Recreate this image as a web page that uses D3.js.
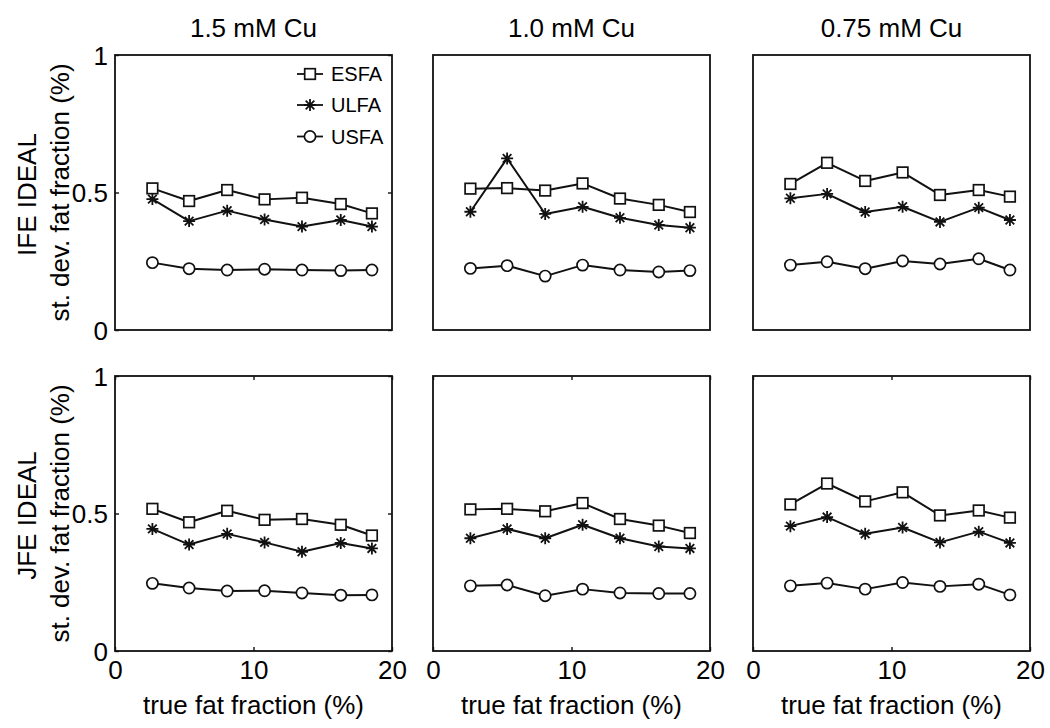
<!DOCTYPE html>
<html><head><meta charset="utf-8">
<script src="https://cdn.jsdelivr.net/npm/d3@7"></script>
<style>body{margin:0;background:#fff}svg{display:block}text{font-family:"Liberation Sans",Arial,Helvetica,sans-serif;fill:#000}</style>
</head><body>
<svg id="c" width="1050" height="728"></svg>
<script>
const columns = ["1.5 mM Cu", "1.0 mM Cu", "0.75 mM Cu"];
const rows = ["IFE IDEAL", "JFE IDEAL"];
const seriesNames = ["ESFA", "ULFA", "USFA"];
const xVals = [2.7, 5.35, 8.1, 10.8, 13.5, 16.3, 18.55];
const xTicks = [0, 10, 20];
const yTicks = [0, 0.5, 1];
const xLabel = "true fat fraction (%)";
const yLabel = "st. dev. fat fraction (%)";

// [row][column][series]
const ife15 = [[0.515,0.469,0.509,0.475,0.481,0.458,0.424],[0.476,0.396,0.434,0.402,0.376,0.400,0.376],[0.245,0.223,0.218,0.221,0.218,0.216,0.218]];
const ife10 = [[0.514,0.516,0.507,0.533,0.478,0.455,0.429],[0.430,0.624,0.422,0.448,0.408,0.382,0.372],[0.224,0.234,0.196,0.236,0.218,0.211,0.216]];
const ife075 = [[0.531,0.608,0.542,0.573,0.491,0.509,0.485],[0.479,0.495,0.429,0.448,0.393,0.445,0.400],[0.236,0.248,0.223,0.251,0.240,0.259,0.218]];
const jfe15 = [[0.517,0.468,0.510,0.477,0.480,0.459,0.420],[0.444,0.387,0.426,0.395,0.361,0.393,0.373],[0.246,0.229,0.218,0.219,0.211,0.203,0.204]];
const jfe10 = [[0.515,0.517,0.508,0.538,0.480,0.456,0.429],[0.410,0.444,0.410,0.459,0.410,0.380,0.373],[0.237,0.240,0.201,0.225,0.211,0.209,0.209]];
const jfe075 = [[0.533,0.609,0.544,0.577,0.493,0.511,0.485],[0.454,0.487,0.426,0.449,0.395,0.434,0.393],[0.237,0.247,0.225,0.249,0.235,0.243,0.204]];
const panelData = [[ife15, ife10, ife075], [jfe15, jfe10, jfe075]];

const svg = d3.select("#c");
const panelLeft = [115, 433, 753];
const panelTop = [55, 376];
const PW = 277, PH = 275;
const FS = 26;

function drawMarker(g, type, x, y) {
  if (type === 0) {
    g.append("rect").attr("x", x-5.3).attr("y", y-5.3).attr("width", 10.6).attr("height", 10.6)
      .attr("fill", "#fff").attr("stroke", "#111").attr("stroke-width", 1.7);
  } else if (type === 1) {
    const r = 6, d = r*0.72;
    const p = d3.path();
    p.moveTo(x-r, y); p.lineTo(x+r, y);
    p.moveTo(x, y-r); p.lineTo(x, y+r);
    p.moveTo(x-d, y-d); p.lineTo(x+d, y+d);
    p.moveTo(x-d, y+d); p.lineTo(x+d, y-d);
    g.append("path").attr("d", p.toString()).attr("stroke", "#111").attr("stroke-width", 1.8).attr("fill", "none");
  } else {
    g.append("circle").attr("cx", x).attr("cy", y).attr("r", 5.6)
      .attr("fill", "#fff").attr("stroke", "#111").attr("stroke-width", 1.7);
  }
}

rows.forEach((rowName, ri) => {
  columns.forEach((colName, ci) => {
    const x = d3.scaleLinear().domain([0, 20]).range([panelLeft[ci], panelLeft[ci] + PW]);
    const y = d3.scaleLinear().domain([0, 1]).range([panelTop[ri] + PH, panelTop[ri]]);
    const g = svg.append("g");
    if (ci === 0) {
      const ya = g.append("g").attr("transform", `translate(${x(0)},0)`)
        .call(d3.axisLeft(y).tickValues(yTicks).tickFormat(d3.format("")).tickSize(-4).tickPadding(7));
      ya.select(".domain").remove();
      ya.selectAll("line").attr("stroke", "#111").attr("stroke-width", 1.4);
      ya.selectAll("text").attr("font-size", FS).attr("dy", "0.36em")
        .style("font-family", '"Liberation Sans",Arial,sans-serif');
      const yb = g.append("g").attr("transform", `translate(${x(20)},0)`)
        .call(d3.axisRight(y).tickValues(yTicks).tickFormat("").tickSize(-4));
      yb.select(".domain").remove();
      yb.selectAll("line").attr("stroke", "#111").attr("stroke-width", 1.4);
    }
    if (ri === 1) {
      const xa = g.append("g").attr("transform", `translate(0,${y(0)})`)
        .call(d3.axisBottom(x).tickValues(xTicks).tickFormat(d3.format("")).tickSize(-4).tickPadding(10));
      xa.select(".domain").remove();
      xa.selectAll("line").attr("stroke", "#111").attr("stroke-width", 1.4);
      xa.selectAll("text").attr("font-size", FS)
        .style("font-family", '"Liberation Sans",Arial,sans-serif');
      const xb = g.append("g").attr("transform", `translate(0,${y(1)})`)
        .call(d3.axisTop(x).tickValues(xTicks).tickFormat("").tickSize(-4));
      xb.select(".domain").remove();
      xb.selectAll("line").attr("stroke", "#111").attr("stroke-width", 1.4);
      g.append("text").attr("x", (x(0)+x(20))/2).attr("y", 714).attr("text-anchor", "middle")
        .attr("font-size", FS).text(xLabel);
    }
    g.append("rect").attr("x", x(0)).attr("y", y(1)).attr("width", x(20)-x(0)).attr("height", y(0)-y(1))
      .attr("fill", "none").attr("stroke", "#111").attr("stroke-width", 1.8);
    const line = d3.line().x((d, i) => x(xVals[i])).y(d => y(d));
    panelData[ri][ci].forEach((vals, si) => {
      g.append("path").datum(vals).attr("d", line).attr("fill", "none")
        .attr("stroke", "#111").attr("stroke-width", 2).attr("stroke-linejoin", "round");
      vals.forEach((v, i) => drawMarker(g, si, x(xVals[i]), y(v)));
    });
    if (ri === 0) {
      g.append("text").attr("x", (x(0)+x(20))/2).attr("y", 37).attr("text-anchor", "middle")
        .attr("font-size", FS).text(colName);
    }
    if (ci === 0) {
      const cy = (y(0)+y(1))/2;
      g.append("text").attr("transform", `translate(36,${cy+2}) rotate(-90)`).attr("text-anchor", "middle")
        .attr("font-size", FS).text(rowName);
      g.append("text").attr("transform", `translate(69,${cy}) rotate(-90)`).attr("text-anchor", "middle")
        .attr("font-size", FS).text(yLabel);
    }
    if (ri === 0 && ci === 0) {
      const lx0 = 297, lx1 = 323, ly = [74, 105, 136.5];
      seriesNames.forEach((nm, si) => {
        g.append("line").attr("x1", lx0).attr("x2", lx1).attr("y1", ly[si]).attr("y2", ly[si])
          .attr("stroke", "#111").attr("stroke-width", 1.8);
        drawMarker(g, si, (lx0+lx1)/2, ly[si]);
        g.append("text").attr("x", 331).attr("y", ly[si]).attr("dy", "0.36em")
          .attr("font-size", 20).text(nm);
      });
    }
  });
});
</script>
</body></html>
